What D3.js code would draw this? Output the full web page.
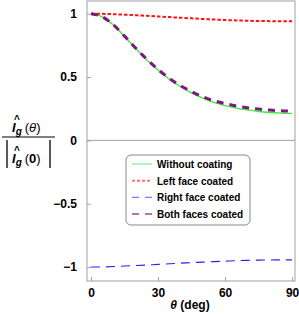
<!DOCTYPE html>
<html>
<head>
<meta charset="utf-8">
<script src="https://cdn.jsdelivr.net/npm/d3@7"></script>
<style>
  body { margin: 0; background: #fff; }
  text { font-family: "Liberation Sans", Arial, sans-serif; font-weight: bold; }
</style>
</head>
<body>
<div id="graph"></div>
<script>
// angles (deg)
var theta = [0, 5, 10, 15, 20, 25, 30, 35, 40, 45, 50, 55, 60, 65, 70, 75, 80, 85, 90];

// normalised values
var withoutCoating = [1.0, 0.975, 0.91, 0.82, 0.725, 0.635, 0.555, 0.483, 0.425, 0.375, 0.333, 0.3, 0.275, 0.255, 0.24, 0.228, 0.22, 0.215, 0.213];
var leftFace = [1.0, 0.999, 0.996, 0.992, 0.988, 0.983, 0.978, 0.973, 0.968, 0.963, 0.958, 0.954, 0.95, 0.947, 0.944, 0.942, 0.941, 0.94, 0.94];
var rightFace = [-1.0, -0.999, -0.996, -0.992, -0.988, -0.984, -0.979, -0.974, -0.969, -0.965, -0.961, -0.957, -0.953, -0.95, -0.947, -0.945, -0.944, -0.943, -0.943];
var bothFaces = [1.0, 0.976, 0.912, 0.823, 0.728, 0.64, 0.56, 0.49, 0.433, 0.385, 0.344, 0.313, 0.29, 0.272, 0.258, 0.247, 0.239, 0.233, 0.23];

var xTicks = [0, 30, 60, 90];
var yTicks = [-1, -0.5, 0, 0.5, 1];
var yTickLabels = ["\u22121", "\u22120.5", "0", "0.5", "1"];

var series = [
    {name: "Without coating", values: withoutCoating, color: "#33ee33", width: 1.3, dash: null},
    {name: "Left face coated", values: leftFace, color: "#ff1010", width: 2, dash: "3.5,2"},
    {name: "Right face coated", values: rightFace, color: "#2020ff", width: 1.1, dash: "9,6"},
    {name: "Both faces coated", values: bothFaces, color: "#7a1a7a", width: 3, dash: "7,6"}
];

var width = 299, height = 316;
var padLeft = 87, padRight = 295, padTop = 1, padBottom = 281;

var svg = d3.select("#graph").append("svg")
    .attr("width", width)
    .attr("height", height);

var x = d3.scaleLinear().domain([-1.8, 91.3]).range([padLeft, padRight]);
var y = d3.scaleLinear().domain([-1.11, 1.1]).range([padBottom, padTop]);

// frame
svg.append("rect")
    .attr("x", padLeft).attr("y", padTop)
    .attr("width", padRight - padLeft).attr("height", padBottom - padTop)
    .attr("fill", "none").attr("stroke", "#a0a0a0").attr("stroke-width", 1);

// zero line
svg.append("line")
    .attr("x1", padLeft).attr("x2", padRight)
    .attr("y1", y(0)).attr("y2", y(0))
    .attr("stroke", "#a0a0a0").attr("stroke-width", 1);

// axes with inward ticks
var xAxis = d3.axisBottom(x).tickValues(xTicks).tickSizeInner(-4).tickSizeOuter(0).tickPadding(7);
var gx = svg.append("g").attr("transform", "translate(0," + padBottom + ")").call(xAxis);
gx.select(".domain").remove();
gx.selectAll("line").attr("stroke", "#a0a0a0");
gx.selectAll("text").attr("font-size", 12).attr("fill", "#000");

var yAxis = d3.axisLeft(y).tickValues(yTicks).tickFormat(function(d, i) { return yTickLabels[i]; })
    .tickSizeInner(-4).tickSizeOuter(0).tickPadding(10);
var gy = svg.append("g").attr("transform", "translate(" + padLeft + ",0)").call(yAxis);
gy.select(".domain").remove();
gy.selectAll("line").attr("stroke", "#a0a0a0");
gy.selectAll("text").attr("font-size", 12).attr("fill", "#000");

// curves
var line = d3.line()
    .x(function(d, i) { return x(theta[i]); })
    .y(function(d) { return y(d); })
    .curve(d3.curveMonotoneX);

svg.selectAll("path.curve")
    .data(series)
    .enter()
    .append("path")
    .attr("class", "curve")
    .attr("fill", "none")
    .attr("stroke", function(d) { return d.color; })
    .attr("stroke-width", function(d) { return d.width; })
    .attr("stroke-dasharray", function(d) { return d.dash; })
    .attr("d", function(d) { return line(d.values); });

// legend
var legend = svg.append("g").attr("transform", "translate(126,155)");
legend.append("rect")
    .attr("width", 124).attr("height", 70).attr("rx", 5)
    .attr("fill", "#fff").attr("stroke", "#888").attr("stroke-width", 1);

var rows = legend.selectAll("g.row")
    .data(series)
    .enter()
    .append("g")
    .attr("class", "row")
    .attr("transform", function(d, i) { return "translate(0," + (9 + i * 16.7) + ")"; });

rows.append("line")
    .attr("x1", 6).attr("x2", 26)
    .attr("stroke", function(d) { return d.color; })
    .attr("stroke-opacity", 0.6)
    .attr("stroke-width", function(d) { return Math.min(d.width, 2); })
    .attr("stroke-dasharray", function(d) { return d.name == "Without coating" ? null : (d.name == "Left face coated" ? "3,2" : "7,6"); });

rows.append("text")
    .attr("x", 31).attr("y", 4)
    .attr("font-size", 10)
    .text(function(d) { return d.name; });

// x axis title
var xt = svg.append("text")
    .attr("x", 190).attr("y", 309)
    .attr("text-anchor", "middle")
    .attr("font-size", 12);
xt.append("tspan").attr("font-style", "italic").text("\u03b8");
xt.append("tspan").text(" (deg)");

// y axis title as a fraction: hat-I_g(theta) over |hat-I_g(0)|
var yl = svg.append("g");

function hatI(g, xPos, base, arg) {
    g.append("text").attr("x", xPos + 2).attr("y", base - 9).attr("text-anchor", "middle")
        .attr("font-size", 10).text("^");
    var t = g.append("text").attr("x", xPos - 3).attr("y", base).attr("font-size", 13);
    t.append("tspan").attr("font-style", "italic").text("I");
    t.append("tspan").attr("font-style", "italic").attr("font-size", 10).attr("dy", 3).text("g");
    t.append("tspan").attr("dx", 3).attr("dy", -3).attr("font-weight", "normal").text("(");
    var a = t.append("tspan").text(arg);
    if (arg == "\u03b8") a.attr("font-style", "italic").attr("font-weight", "normal");
    t.append("tspan").attr("font-weight", "normal").text(")");
}

hatI(yl, 15, 132, "\u03b8");

yl.append("line")
    .attr("x1", 2).attr("x2", 55)
    .attr("y1", 137).attr("y2", 137)
    .attr("stroke", "#000").attr("stroke-width", 1);

hatI(yl, 15, 163, "0");

yl.append("line").attr("x1", 7).attr("x2", 7).attr("y1", 140).attr("y2", 168).attr("stroke", "#000").attr("stroke-width", 1.3);
yl.append("line").attr("x1", 50).attr("x2", 50).attr("y1", 140).attr("y2", 168).attr("stroke", "#000").attr("stroke-width", 1.3);
</script>
</body>
</html>
